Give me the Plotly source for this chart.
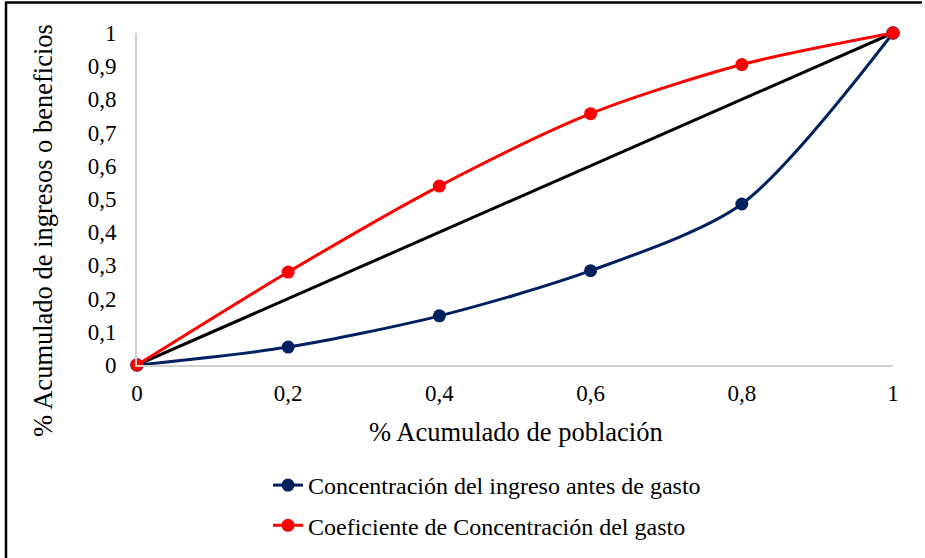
import plotly.graph_objects as go

x_vals = [0, 0.2, 0.4, 0.6, 0.8, 1]
ingreso = [0, 0.054, 0.148, 0.284, 0.485, 1]
gasto = [0, 0.28, 0.539, 0.757, 0.905, 1]
equidad_x = [0, 1]
equidad_y = [0, 1]
tick_vals_x = [0, 0.2, 0.4, 0.6, 0.8, 1]
tick_text_x = ["0", "0,2", "0,4", "0,6", "0,8", "1"]
tick_vals_y = [0, 0.1, 0.2, 0.3, 0.4, 0.5, 0.6, 0.7, 0.8, 0.9, 1]
tick_text_y = ["0", "0,1", "0,2", "0,3", "0,4", "0,5", "0,6", "0,7", "0,8", "0,9", "1"]

FONT = "Liberation Serif"
W, H = 925, 558
L, R, T, B = 137, 32, 33, 193
pw, ph = W - L - R, H - T - B

def px(xp):
    return (xp - L) / pw

def py(yp):
    return (H - B - yp) / ph

fig = go.Figure()
fig.add_trace(go.Scatter(
    x=equidad_x, y=equidad_y, mode="lines+markers",
    line=dict(color="#000000", width=3),
    marker=dict(color="#5b9bd5", size=14),
    showlegend=False, cliponaxis=False, hoverinfo="skip"))
fig.add_trace(go.Scatter(
    x=x_vals, y=ingreso, mode="lines+markers",
    name="Concentración del ingreso antes de gasto",
    line=dict(color="#002060", width=3, shape="spline", smoothing=0.8),
    marker=dict(color="#002060", size=13),
    legendgroup="a", cliponaxis=False))
fig.add_trace(go.Scatter(
    x=x_vals, y=gasto, mode="lines+markers",
    name="Coeficiente de Concentración del gasto",
    line=dict(color="#ff0000", width=3, shape="spline", smoothing=0.8),
    marker=dict(color="#ff0000", size=13),
    legendgroup="b", cliponaxis=False))

fig.update_layout(
    width=W, height=H,
    margin=dict(l=L, r=R, t=T, b=B, autoexpand=False),
    paper_bgcolor="white", plot_bgcolor="white",
    font=dict(family=FONT, size=23, color="#000000"),
    xaxis=dict(range=[0, 1], tickvals=tick_vals_x, ticktext=tick_text_x,
               showgrid=False, zeroline=False, showline=True, linecolor="#d0d0d0",
               linewidth=2, ticks="outside", ticklen=6, tickcolor="rgba(0,0,0,0)",
               tickfont=dict(family=FONT, size=23)),
    yaxis=dict(range=[0, 1], tickvals=tick_vals_y, ticktext=tick_text_y,
               showgrid=False, zeroline=False, showline=True, linecolor="#d0d0d0",
               linewidth=2, ticks="outside", ticklen=14, tickcolor="rgba(0,0,0,0)",
               tickfont=dict(family=FONT, size=23)),
    legend=dict(x=px(268), y=py(463), xanchor="left", yanchor="top",
                font=dict(family=FONT, size=24), tracegroupgap=6,
                bgcolor="rgba(0,0,0,0)"),
    showlegend=True,
)

fig.add_annotation(text="% Acumulado de población", xref="paper", yref="paper",
                   x=px(516), y=py(432), showarrow=False,
                   font=dict(family=FONT, size=26.5), xanchor="center", yanchor="middle")
fig.add_annotation(text="% Acumulado de ingresos o beneficios", xref="paper", yref="paper",
                   x=px(43), y=py(231), showarrow=False, textangle=-90,
                   font=dict(family=FONT, size=26.5), xanchor="center", yanchor="middle")

# outer chart border
fig.add_shape(type="line", xref="paper", yref="paper",
              x0=px(6), x1=px(6), y0=py(2), y1=py(560),
              line=dict(color="#000000", width=2.5))
fig.add_shape(type="line", xref="paper", yref="paper",
              x0=px(5), x1=px(922), y0=py(2.5), y1=py(2.5),
              line=dict(color="#000000", width=2.5))

fig.write_html("out.html")
